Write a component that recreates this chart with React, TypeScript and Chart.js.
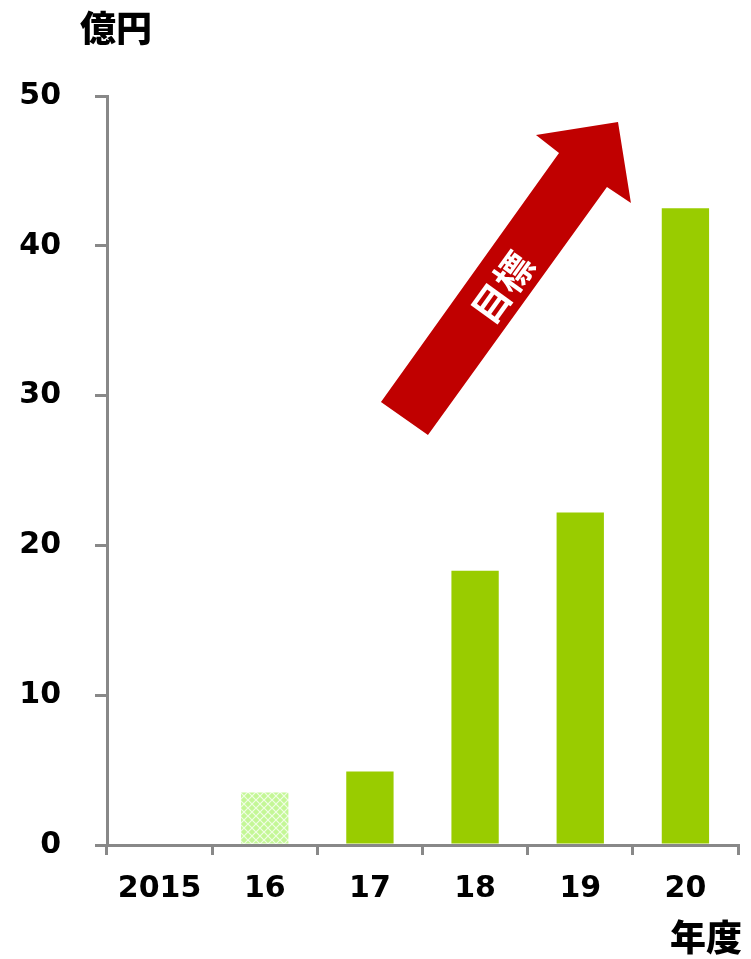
import React, { useEffect, useRef } from "react";
import { Chart, registerables } from "chart.js";

Chart.register(...registerables);

const categories = ["2015", "16", "17", "18", "19", "20"];
const values = [0, 3.5, 4.9, 18.3, 22.2, 42.5];
const patternIndex = [1];
const yMin = 0;
const yMax = 50;
const yStep = 10;
const yTitle = "億円";
const xTitle = "年度";
const arrowLabel = "目標";
// arrow outline in (category index, value) space
const arrowIdx = [2.105, 2.552, 4.254, 4.482, 4.359, 3.579, 3.798];
const arrowVal = [29.57, 27.37, 43.92, 42.86, 48.26, 47.4, 46.19];
const arrowTextPos = [3.26, 37.2];

const BAR = "#99cc00";
const AXIS = "#888888";
const DIGIT_FONT = "'DejaVu Sans', Verdana, sans-serif";
const CJK_FONT = "'Noto Sans CJK JP', 'Noto Sans CJK SC', sans-serif";

function makePattern(): CanvasPattern | string {
  const c = document.createElement("canvas");
  c.width = 8;
  c.height = 8;
  const g = c.getContext("2d");
  if (!g) return "#ccf59f";
  g.fillStyle = "#c4f796";
  g.fillRect(0, 0, 8, 8);
  g.strokeStyle = "rgba(255,255,255,0.75)";
  g.lineWidth = 1.2;
  g.beginPath();
  g.moveTo(0, 0);
  g.lineTo(8, 8);
  g.moveTo(8, 0);
  g.lineTo(0, 8);
  g.stroke();
  const p = g.createPattern(c, "repeat");
  return p || "#ccf59f";
}

const decorPlugin = {
  id: "decor",
  afterDatasetsDraw(chart: any) {
    const ctx = chart.ctx;
    const xs = chart.scales.x;
    const ys = chart.scales.y;
    const pts = arrowIdx.map((v, i) => [xs.getPixelForValue(v), ys.getPixelForValue(arrowVal[i])]);
    ctx.save();
    ctx.fillStyle = "#c00000";
    ctx.beginPath();
    pts.forEach((p, i) => (i === 0 ? ctx.moveTo(p[0], p[1]) : ctx.lineTo(p[0], p[1])));
    ctx.closePath();
    ctx.fill();
    const tailX = (pts[0][0] + pts[1][0]) / 2;
    const tailY = (pts[0][1] + pts[1][1]) / 2;
    const headX = (pts[2][0] + pts[6][0]) / 2;
    const headY = (pts[2][1] + pts[6][1]) / 2;
    const ang = Math.atan2(headY - tailY, headX - tailX);
    const tx = xs.getPixelForValue(arrowTextPos[0]);
    const ty = ys.getPixelForValue(arrowTextPos[1]);
    ctx.translate(tx, ty);
    ctx.rotate(ang);
    ctx.fillStyle = "#ffffff";
    ctx.font = `bold 38px ${CJK_FONT}`;
    ctx.textAlign = "center";
    ctx.textBaseline = "middle";
    ctx.fillText(arrowLabel, 0, 0);
    ctx.restore();

    ctx.save();
    ctx.fillStyle = "#000";
    ctx.font = `900 36px ${CJK_FONT}`;
    ctx.textAlign = "center";
    ctx.textBaseline = "middle";
    ctx.fillText(yTitle, 116, 28);
    ctx.fillText(xTitle, 706, 937);
    ctx.restore();
  },
};

export default function App() {
  const ref = useRef<HTMLCanvasElement | null>(null);
  useEffect(() => {
    if (!ref.current) return;
    const pattern = makePattern();
    const chart = new Chart(ref.current, {
      type: "bar",
      data: {
        labels: categories,
        datasets: [
          {
            data: values,
            backgroundColor: values.map((_, i) => (patternIndex.includes(i) ? pattern : BAR)) as any,
            borderWidth: 0,
            barPercentage: 0.9,
            categoryPercentage: 0.5,
          },
        ],
      },
      options: {
        animation: false,
        responsive: false,
        maintainAspectRatio: false,
        layout: { padding: { top: 96, right: 13, left: 0, bottom: 0 } },
        plugins: { legend: { display: false }, tooltip: { enabled: false }, title: { display: false } },
        scales: {
          x: {
            offset: true,
            grid: {
              offset: true,
              drawOnChartArea: false,
              drawTicks: true,
              tickLength: 10,
              color: AXIS,
              lineWidth: 3,
            },
            border: { color: AXIS, width: 3 },
            ticks: {
              color: "#000",
              font: { family: DIGIT_FONT, size: 30, weight: "bold" },
              padding: 16,
              maxRotation: 0,
            },
            afterFit: (s: any) => {
              s.height = 114;
            },
          },
          y: {
            min: yMin,
            max: yMax,
            grid: {
              drawOnChartArea: false,
              drawTicks: true,
              tickLength: 12,
              color: AXIS,
              lineWidth: 3,
            },
            border: { color: AXIS, width: 3 },
            ticks: {
              stepSize: yStep,
              color: "#000",
              font: { family: DIGIT_FONT, size: 30, weight: "bold" },
              padding: 34,
            },
            afterFit: (s: any) => {
              s.width = 107;
            },
          },
        },
      },
      plugins: [decorPlugin],
    });
    return () => chart.destroy();
  }, []);
  return (
    <div style={{ position: "absolute", left: 0, top: 0, width: 751, height: 959, background: "#fff" }}>
      <canvas ref={ref} width={751} height={959} style={{ width: 751, height: 959 }} />
    </div>
  );
}
